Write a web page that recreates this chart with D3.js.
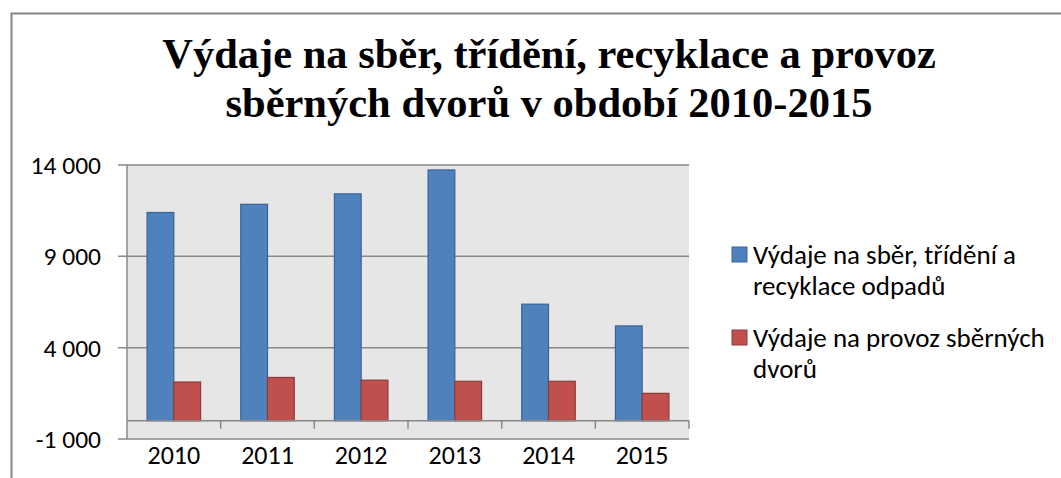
<!DOCTYPE html>
<html>
<head>
<meta charset="utf-8">
<script src="https://cdn.jsdelivr.net/npm/d3@7"></script>
<style>
  body { margin: 0; background: #fff; }
  svg { display: block; }
</style>
</head>
<body>
<div id="chart"></div>
<script>
// data
const years = ["2010", "2011", "2012", "2013", "2014", "2015"];
const seriesNames = ["Výdaje na sběr, třídění a recyklace odpadů", "Výdaje na provoz sběrných dvorů"];
const sberValues = [11400, 11850, 12420, 13730, 6380, 5190];
const dvoryValues = [2120, 2370, 2220, 2160, 2160, 1500];
const yTicks = [-1000, 4000, 9000, 14000];
const titleLines = ["Výdaje na sběr, třídění, recyklace a provoz", "sběrných dvorů v období 2010-2015"];
const legendLines = [["Výdaje na sběr, třídění a", "recyklace odpadů"], ["Výdaje na provoz sběrných", "dvorů"]];

const width = 1061, height = 478;
const plot = { left: 127, right: 689, top: 165, bottom: 439 };
const labelFont = "Carlito, Calibri, 'Open Sans', sans-serif";

const svg = d3.select("#chart").append("svg")
    .attr("width", width)
    .attr("height", height);

// chart frame
svg.append("rect")
    .attr("x", 11.5).attr("y", 13.5)
    .attr("width", 1100).attr("height", 500)
    .attr("fill", "#fff")
    .attr("stroke", "#868686")
    .attr("stroke-width", 2);

// title
svg.append("text")
    .attr("x", 549).attr("y", 68)
    .attr("text-anchor", "middle")
    .style("font-family", "'Liberation Serif', 'Times New Roman', serif")
    .style("font-weight", "bold")
    .style("font-size", "42.5px")
    .selectAll("tspan")
    .data(titleLines)
    .enter().append("tspan")
    .attr("x", 549)
    .attr("dy", (d, i) => i === 0 ? 0 : 49)
    .text(d => d);

// scales
const x0 = d3.scaleBand().domain(years).range([plot.left, plot.right]).paddingInner(0).paddingOuter(0);
const barW = x0.bandwidth() / 3.5;
const y = d3.scaleLinear().domain([-1000, 14000]).range([plot.bottom, plot.top]);
const fmt = d3.formatLocale({ decimal: ",", thousands: " ", grouping: [3], currency: ["", " Kč"], minus: "-" }).format(",d");

// plot area background
svg.append("rect")
    .attr("x", plot.left).attr("y", plot.top)
    .attr("width", plot.right - plot.left).attr("height", plot.bottom - plot.top)
    .attr("fill", "#e6e6e6");

// gridlines
svg.append("g").selectAll("line")
    .data(yTicks.slice(1))
    .enter().append("line")
    .attr("x1", plot.left - 9).attr("x2", plot.right)
    .attr("y1", d => y(d)).attr("y2", d => y(d))
    .attr("stroke", "#888").attr("stroke-width", 1.5);

// bottom border line at -1000
svg.append("line")
    .attr("x1", plot.left - 9).attr("x2", plot.right)
    .attr("y1", y(-1000)).attr("y2", y(-1000))
    .attr("stroke", "#888").attr("stroke-width", 1.5);

// bars
const colors = [{ fill: "#4f81bd", stroke: "#3a6496" }, { fill: "#c0504d", stroke: "#8e3b39" }];
[sberValues, dvoryValues].forEach((vals, s) => {
    svg.append("g").selectAll("rect")
        .data(vals)
        .enter().append("rect")
        .attr("x", (d, i) => x0(years[i]) + barW * 0.75 + s * barW)
        .attr("y", d => y(d))
        .attr("width", barW)
        .attr("height", d => y(0) - y(d))
        .attr("fill", colors[s].fill)
        .attr("stroke", colors[s].stroke)
        .attr("stroke-width", 1.2);
});

// category axis at zero
svg.append("line")
    .attr("x1", plot.left).attr("x2", plot.right)
    .attr("y1", y(0)).attr("y2", y(0))
    .attr("stroke", "#888").attr("stroke-width", 1.5);

svg.append("g").selectAll("line")
    .data(years.slice(1).concat(["end"]))
    .enter().append("line")
    .attr("x1", (d, i) => plot.left + x0.bandwidth() * (i + 1))
    .attr("x2", (d, i) => plot.left + x0.bandwidth() * (i + 1))
    .attr("y1", y(0)).attr("y2", y(0) + 8)
    .attr("stroke", "#888").attr("stroke-width", 1.5);

// value axis
svg.append("line")
    .attr("x1", plot.left).attr("x2", plot.left)
    .attr("y1", plot.top).attr("y2", plot.bottom)
    .attr("stroke", "#888").attr("stroke-width", 1.5);

svg.append("g").selectAll("text")
    .data(yTicks)
    .enter().append("text")
    .attr("x", 101)
    .attr("y", d => y(d))
    .attr("dy", "0.35em")
    .attr("text-anchor", "end")
    .style("font-family", labelFont)
    .style("font-size", "25.5px")
    .attr("fill", "#000")
    .text(d => fmt(d));

// category labels
svg.append("g").selectAll("text")
    .data(years)
    .enter().append("text")
    .attr("x", d => x0(d) + x0.bandwidth() / 2)
    .attr("y", 455)
    .attr("dy", "0.35em")
    .attr("text-anchor", "middle")
    .style("font-family", labelFont)
    .style("font-size", "26px")
    .attr("fill", "#000")
    .text(d => d);

// legend
const legend = svg.append("g");
const legendTop = [247, 330];
legendLines.forEach((lines, s) => {
    legend.append("rect")
        .attr("x", 732).attr("y", legendTop[s])
        .attr("width", 15).attr("height", 15)
        .attr("fill", colors[s].fill)
        .attr("stroke", colors[s].stroke)
        .attr("stroke-width", 1);
    legend.append("text")
        .attr("x", 753)
        .attr("y", legendTop[s] + 8)
        .style("font-family", labelFont)
        .style("font-size", "27px")
        .attr("fill", "#000")
        .selectAll("tspan")
        .data(lines)
        .enter().append("tspan")
        .attr("x", 753)
        .attr("dy", (d, i) => i === 0 ? "0.35em" : 31)
        .text(d => d);
});
</script>
</body>
</html>
